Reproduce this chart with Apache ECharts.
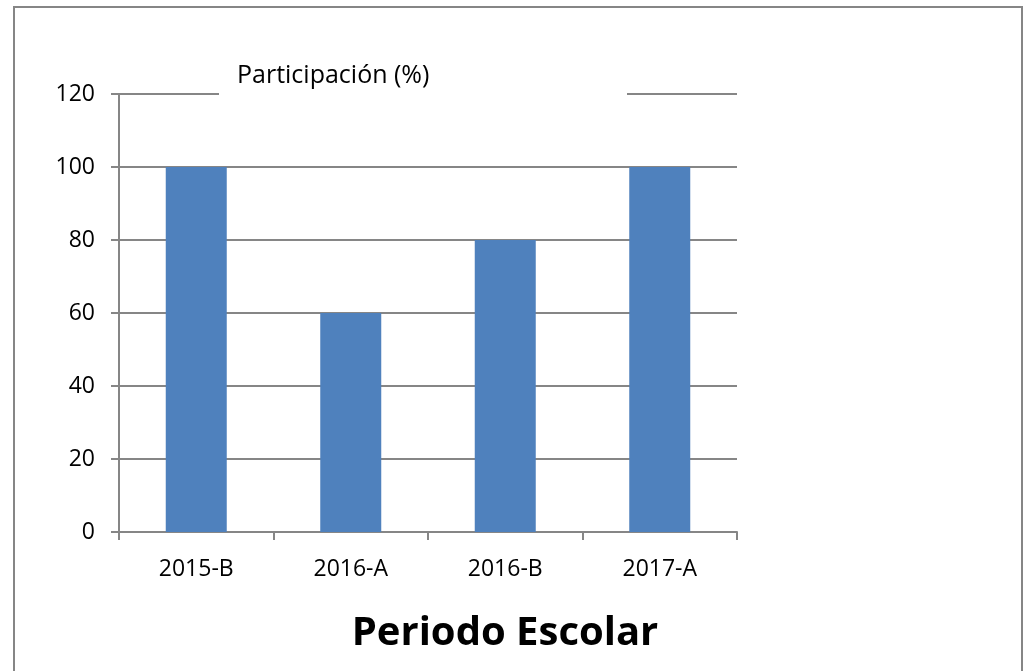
<!DOCTYPE html>
<html>
<head>
<meta charset="utf-8">
<script src="https://cdn.jsdelivr.net/npm/echarts@6/dist/echarts.min.js"></script>
<style>
  html, body { margin: 0; padding: 0; background: #fff; }
  #chart { width: 1027px; height: 671px; }
</style>
</head>
<body>
<div id="chart"></div>
<script>
// datos del grafico
var categories = ['2015-B', '2016-A', '2016-B', '2017-A'];
var participacion = [100, 60, 80, 100];
var yTicks = { min: 0, max: 120, interval: 20 };

var chart = echarts.init(document.getElementById('chart'));
var fontFam = '"Open Sans", sans-serif';
var gris = '#868686';

chart.setOption({
  animation: false,
  title: {
    text: 'Participación (%)',
    left: 237,
    top: 63,
    padding: 0,
    z: 20,
    textStyle: { fontFamily: fontFam, fontSize: 25, fontWeight: 'normal', color: '#000' }
  },
  grid: { left: 119, right: 290, top: 94, bottom: 139 },
  xAxis: {
    type: 'category',
    data: categories,
    axisLine: { lineStyle: { color: gris, width: 2 } },
    axisTick: { show: true, length: 8, lineStyle: { color: gris, width: 2 } },
    axisLabel: { margin: 26, fontFamily: fontFam, fontSize: 23, color: '#000' }
  },
  yAxis: {
    type: 'value',
    min: yTicks.min,
    max: yTicks.max,
    interval: yTicks.interval,
    axisLine: { show: true, lineStyle: { color: gris, width: 2 } },
    axisTick: { show: true, length: 8, lineStyle: { color: gris, width: 2 } },
    axisLabel: { margin: 24, fontFamily: fontFam, fontSize: 23, color: '#000' },
    splitLine: { lineStyle: { color: gris, width: 2 } }
  },
  series: [{
    name: 'Participación (%)',
    type: 'bar',
    data: participacion,
    barWidth: 61,
    itemStyle: { color: '#4F81BD' }
  }],
  graphic: [
    {
      // hueco blanco del titulo sobre la linea superior
      type: 'rect',
      z: 15,
      shape: { x: 219, y: 88, width: 408, height: 12 },
      style: { fill: '#fff' },
      silent: true
    },
    {
      type: 'rect',
      shape: { x: 14, y: 7, width: 1008, height: 700 },
      style: { fill: 'none', stroke: gris, lineWidth: 2 },
      silent: true
    },
    {
      type: 'text',
      x: 505,
      y: 634,
      style: {
        text: 'Periodo Escolar',
        fontFamily: fontFam,
        fontSize: 40,
        fontWeight: 'bold',
        fill: '#000',
        textAlign: 'center',
        textVerticalAlign: 'middle'
      }
    }
  ]
});
</script>
</body>
</html>
